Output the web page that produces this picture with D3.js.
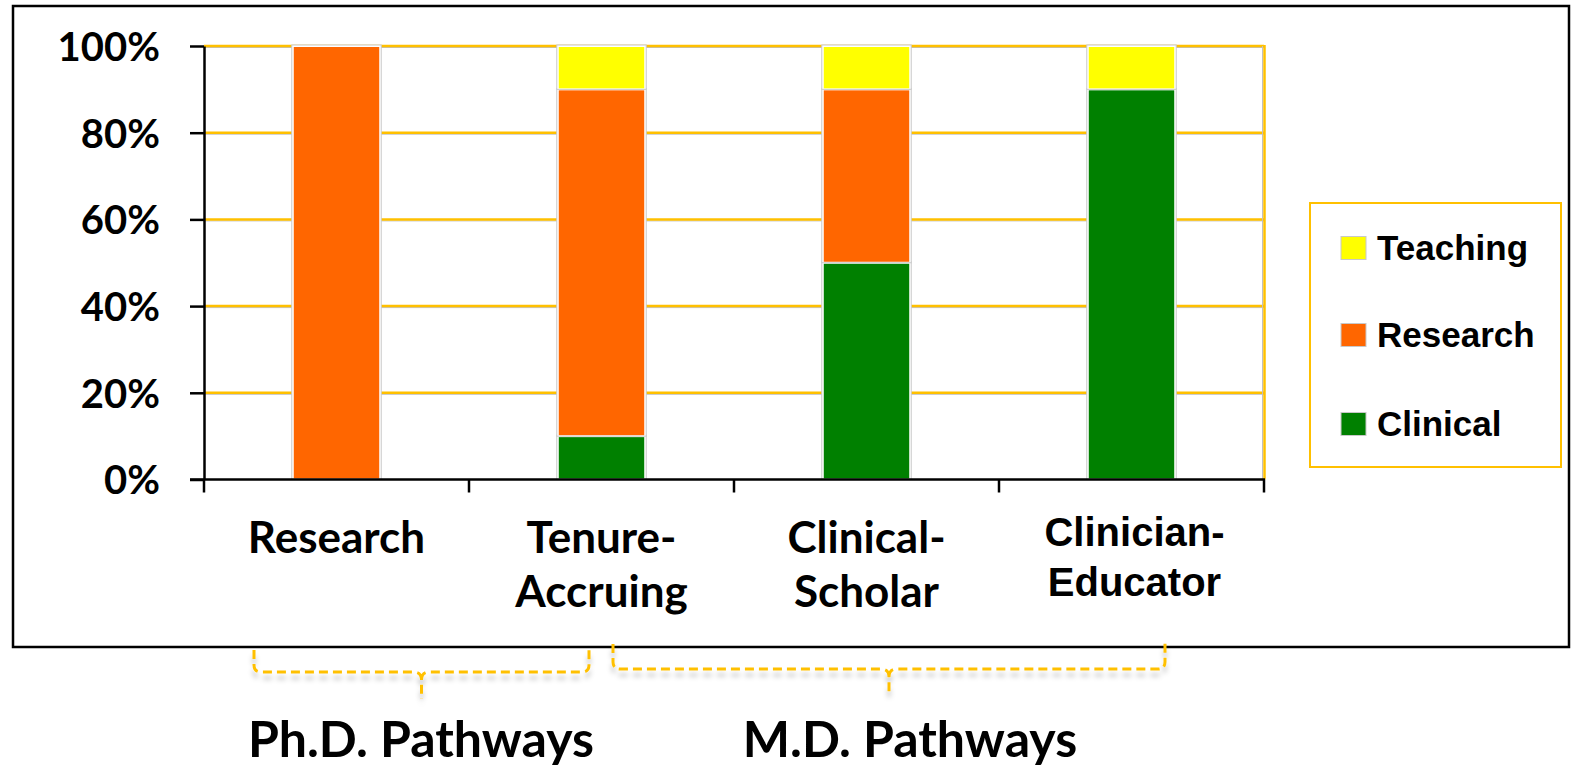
<!DOCTYPE html>
<html><head><meta charset="utf-8">
<script src="https://cdn.jsdelivr.net/npm/d3@7"></script>
<style>
html,body{margin:0;padding:0;background:#fff;}
svg{display:block;}
</style></head>
<body>
<svg id="c" width="1573" height="768"></svg>
<script>
const categories = ["Research", "Tenure-Accruing", "Clinical-Scholar", "Clinician-Educator"];
const categoryLines = [["Research"], ["Tenure-", "Accruing"], ["Clinical-", "Scholar"], ["Clinician-", "Educator"]];
const seriesNames = ["Clinical", "Research", "Teaching"];
const clinical = [0, 0.10, 0.50, 0.90];
const research = [1.00, 0.80, 0.40, 0];
const teaching = [0, 0.10, 0.10, 0.10];
const seriesColors = ["#008000", "#FF6600", "#FFFF00"];
const yTicks = [0, 0.2, 0.4, 0.6, 0.8, 1.0];
const groupLabels = ["Ph.D. Pathways", "M.D. Pathways"];

const svg = d3.select("#c");
const calibri = "Lato, 'Open Sans', sans-serif";
const arial = "'Liberation Sans', Arial, sans-serif";

// outer frame
svg.append("rect").attr("x",13).attr("y",6).attr("width",1556).attr("height",641)
  .attr("fill","#fff").attr("stroke","#000").attr("stroke-width",2.5);

const x = d3.scaleBand().domain(categories).range([204,1264]).paddingInner(0.67).paddingOuter(0.335);
const y = d3.scaleLinear().domain([0,1]).range([479.5,46]);

// gridlines
const grid = svg.append("g");
yTicks.filter(d=>d>0).forEach(t=>{
  grid.append("line").attr("x1",204).attr("x2",1264).attr("y1",y(t)+1.5).attr("y2",y(t)+1.5)
    .attr("stroke","#c0c0c0").attr("stroke-width",1);
  grid.append("line").attr("x1",204).attr("x2",1264).attr("y1",y(t)).attr("y2",y(t))
    .attr("stroke","#FFC000").attr("stroke-width",2.5);
});
grid.append("line").attr("x1",1262.5).attr("x2",1262.5).attr("y1",y(1)).attr("y2",y(0))
  .attr("stroke","#c0c0c0").attr("stroke-width",1);
grid.append("line").attr("x1",1264.5).attr("x2",1264.5).attr("y1",y(1)-1).attr("y2",y(0))
  .attr("stroke","#FFC000").attr("stroke-width",2.5);

// stacked bars
const rows = categories.map((c,i)=>({cat:c, Clinical:clinical[i], Research:research[i], Teaching:teaching[i]}));
const stack = d3.stack().keys(seriesNames)(rows);
const bars = svg.append("g");
stack.forEach((layer,si)=>{
  layer.forEach(seg=>{
    const v0 = seg[0], v1 = seg[1];
    if (v1 - v0 <= 0) return;
    const bx = x(seg.data.cat), bw = x.bandwidth();
    const top = y(v1), bot = y(v0);
    bars.append("rect").attr("x",bx-1).attr("y",top-1).attr("width",bw+2).attr("height",bot-top+1)
      .attr("fill","#fff").attr("stroke","#c8c8c8").attr("stroke-width",1);
    bars.append("rect").attr("x",bx+1).attr("y",top+1).attr("width",bw-2).attr("height",bot-top-2)
      .attr("fill",seriesColors[si]);
  });
});

// y axis
const yAxis = svg.append("g").attr("transform","translate(204,0)")
  .call(d3.axisLeft(y).tickValues(yTicks).tickFormat(d3.format(".0%")).tickSize(14).tickSizeOuter(0).tickPadding(30));
yAxis.select(".domain").attr("stroke","#000").attr("stroke-width",2.5);
yAxis.selectAll(".tick line").attr("stroke","#000").attr("stroke-width",2.5);
yAxis.selectAll(".tick text").attr("font-family",calibri).attr("font-weight","bold")
  .attr("font-size",40).attr("fill","#000").attr("dy","0.36em");

// x axis line + boundary ticks
svg.append("line").attr("x1",190).attr("x2",1265).attr("y1",y(0)).attr("y2",y(0))
  .attr("stroke","#000").attr("stroke-width",2.5);
const step = x.step();
const start = x(categories[0]) - step*x.paddingInner()/2;
d3.range(categories.length+1).forEach(i=>{
  const bx = start + i*step;
  svg.append("line").attr("x1",bx).attr("x2",bx).attr("y1",y(0)).attr("y2",y(0)+13)
    .attr("stroke","#000").attr("stroke-width",2.5);
});

// category labels
const labelCfg = [
  {font:calibri, size:44, y0:553, lh:54, dx:0},
  {font:calibri, size:44, y0:553, lh:54, dx:0},
  {font:calibri, size:44, y0:553, lh:54, dx:0},
  {font:arial, size:40, y0:546, lh:50, dx:3}
];
categories.forEach((c,i)=>{
  const cx = x(c) + x.bandwidth()/2;
  const cfg = labelCfg[i];
  categoryLines[i].forEach((ln,j)=>{
    svg.append("text").attr("x",cx+cfg.dx).attr("y",cfg.y0 + j*cfg.lh).attr("text-anchor","middle")
      .attr("font-family",cfg.font).attr("font-weight","bold").attr("font-size",cfg.size)
      .attr("fill","#000").text(ln);
  });
});

// legend
svg.append("rect").attr("x",1310).attr("y",203).attr("width",251).attr("height",264)
  .attr("fill","#fff").attr("stroke","#FFC000").attr("stroke-width",2);
const legendOrder = [2,1,0];
const legendY = [248, 335, 424];
legendOrder.forEach((si,k)=>{
  svg.append("rect").attr("x",1341).attr("y",legendY[k]-11.5).attr("width",25).attr("height",23)
    .attr("fill",seriesColors[si]).attr("stroke","#c8c8c8").attr("stroke-width",1);
  svg.append("text").attr("x",1377).attr("y",legendY[k]+12).attr("font-family",arial)
    .attr("font-weight","bold").attr("font-size",35).attr("fill","#000").text(seriesNames[si]);
});

// brackets
const defs = svg.append("defs");
const f = defs.append("filter").attr("id","sh").attr("x","-10%").attr("y","-50%").attr("width","120%").attr("height","250%");
f.append("feDropShadow").attr("dx",0).attr("dy",6).attr("stdDeviation",2.5)
  .attr("flood-color","#000").attr("flood-opacity",0.22);

function bracket(x0, x1, yTop0, yTop1, yH, yTip){
  const cx = (x0+x1)/2;
  const r = 7;
  const p = d3.path();
  p.moveTo(x0, yTop0);
  p.lineTo(x0, yH - r);
  p.quadraticCurveTo(x0, yH, x0 + r, yH);
  p.lineTo(cx - 8, yH);
  p.quadraticCurveTo(cx, yH, cx, yH + 8);
  p.lineTo(cx, yTip);
  p.moveTo(cx, yH + 8);
  p.quadraticCurveTo(cx, yH, cx + 8, yH);
  p.lineTo(x1 - r, yH);
  p.quadraticCurveTo(x1, yH, x1, yH - r);
  p.lineTo(x1, yTop1);
  svg.append("path").attr("d", p.toString()).attr("fill","none").attr("stroke","#FFC000")
    .attr("stroke-width",3).attr("stroke-dasharray","9,5").attr("filter","url(#sh)");
}
bracket(254, 589, 650, 648, 672, 699);
bracket(613, 1165, 644, 643, 669, 695);

// group labels
svg.append("text").attr("x",421).attr("y",757).attr("text-anchor","middle")
  .attr("font-family",calibri).attr("font-weight","bold").attr("font-size",50).attr("fill","#000").text(groupLabels[0]);
svg.append("text").attr("x",910).attr("y",757).attr("text-anchor","middle")
  .attr("font-family",calibri).attr("font-weight","bold").attr("font-size",50).attr("fill","#000").text(groupLabels[1]);
</script>
</body></html>
